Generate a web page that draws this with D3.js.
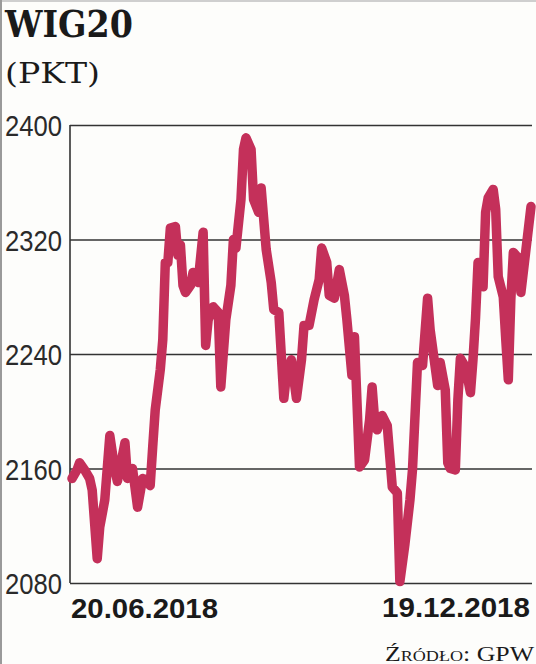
<!DOCTYPE html>
<html>
<head>
<meta charset="utf-8">
<script src="https://cdn.jsdelivr.net/npm/d3@7"></script>
<style>
  html, body { margin: 0; padding: 0; background: #fdfdfb; }
  svg { display: block; }
</style>
</head>
<body>
<svg id="chart" width="536" height="664"></svg>
<script>
// days after 20.06.2018
const days = [0, 2, 3, 5, 7, 8, 10, 11, 13, 15, 17, 18, 20, 21, 22, 24, 26, 28, 30, 31,
  32, 33, 35, 36, 37, 38, 39, 41, 42, 43, 44, 45, 47, 48, 50, 52, 53, 54, 56, 58,
  59, 61, 63, 64, 65, 67, 68, 69, 71, 72, 74, 75, 77, 79, 80, 82, 84, 85, 87, 88,
  89, 91, 92, 94, 96, 98, 99, 101, 102, 104, 106, 108, 109, 111, 112, 114, 116, 118, 119, 120,
  121, 123, 125, 127, 129, 130, 132, 134, 135, 137, 139, 141, 142, 144, 145, 146, 148, 149, 150, 152,
  153, 154, 156, 158, 159, 160, 161, 163, 164, 165, 167, 168, 169, 171, 172, 173, 174, 175, 177, 178,
  180, 182];

// WIG20 closing level (pkt)
const values = [2153, 2159, 2164, 2159, 2153, 2145, 2097, 2119, 2138, 2183, 2159, 2151, 2169, 2178, 2153, 2160, 2133, 2153, 2152, 2148,
  2175, 2201, 2229, 2250, 2304, 2304, 2328, 2329, 2309, 2316, 2288, 2283, 2288, 2297, 2290, 2325, 2246, 2264, 2273, 2269,
  2217, 2264, 2288, 2320, 2314, 2348, 2383, 2391, 2383, 2348, 2339, 2356, 2313, 2290, 2271, 2269, 2209, 2225, 2236, 2222,
  2209, 2236, 2260, 2260, 2278, 2292, 2314, 2304, 2281, 2279, 2299, 2281, 2264, 2225, 2252, 2161, 2166, 2194, 2217, 2194,
  2187, 2197, 2190, 2147, 2143, 2081, 2107, 2138, 2159, 2234, 2232, 2279, 2257, 2231, 2218, 2234, 2215, 2164, 2160, 2159,
  2208, 2237, 2231, 2213, 2236, 2265, 2304, 2287, 2339, 2349, 2355, 2341, 2294, 2280, 2250, 2222, 2278, 2311, 2307, 2283,
  2313, 2343];

const yTicks = [2080, 2160, 2240, 2320, 2400];
const dateLabels = ["20.06.2018", "19.12.2018"];
const title = "WIG20";
const unit = "(PKT)";
const source = "Źródło: GPW";

const start = new Date(2018, 5, 20);
const end = new Date(2018, 11, 19);
const data = days.map((d, i) => ({ date: d3.timeDay.offset(start, d), value: values[i] }));

const svg = d3.select("#chart");
const mLeft = 70, mRight = 532, mTop = 125, mBottom = 583;

// scan border bits
svg.append("rect").attr("x", 0).attr("y", 0).attr("width", 536).attr("height", 2).attr("fill", "#cfcfcf");
svg.append("rect").attr("x", 0).attr("y", 0).attr("width", 2).attr("height", 664).attr("fill", "#9a9a9a");

const x = d3.scaleTime().domain([start, end]).range([mLeft + 2, mRight - 1]);
const y = d3.scaleLinear().domain([2080, 2400]).range([mBottom, mTop]);

// title
svg.append("text")
  .attr("x", 5).attr("y", 37)
  .attr("textLength", 128).attr("lengthAdjust", "spacingAndGlyphs")
  .style("font-family", "'DejaVu Serif', serif")
  .style("font-weight", "bold")
  .style("font-size", "37px")
  .attr("fill", "#1a1a1a")
  .text(title);

svg.append("text")
  .attr("x", 5).attr("y", 83)
  .attr("textLength", 95).attr("lengthAdjust", "spacingAndGlyphs")
  .style("font-family", "'DejaVu Serif', serif")
  .style("font-size", "28px")
  .attr("fill", "#1a1a1a")
  .text(unit);

const labelFont = "'Liberation Sans Narrow', 'Liberation Sans', Arial, sans-serif";

// grid + y labels
const yAxis = d3.axisLeft(y)
  .tickValues(yTicks)
  .tickSize(-(mRight - mLeft))
  .tickPadding(8)
  .tickFormat(d3.format("d"));

const gy = svg.append("g")
  .attr("transform", `translate(${mLeft},0)`)
  .call(yAxis);

gy.select(".domain").remove();
gy.selectAll(".tick line").attr("stroke", "#333").attr("stroke-width", 1.6);
gy.selectAll(".tick text")
  .attr("x", -8)
  .attr("dy", "0.36em")
  .attr("textLength", 57).attr("lengthAdjust", "spacingAndGlyphs")
  .style("font-family", labelFont)
  .style("font-size", "30px")
  .style("font-weight", 300)
  .attr("fill", "#2a2a2a");

// vertical axis line
svg.append("line")
  .attr("x1", mLeft).attr("x2", mLeft)
  .attr("y1", mTop).attr("y2", mBottom)
  .attr("stroke", "#333").attr("stroke-width", 1.6);

// series
const line = d3.line()
  .x(d => x(d.date))
  .y(d => y(d.value));

svg.append("path")
  .datum(data)
  .attr("d", line)
  .attr("fill", "none")
  .attr("stroke", "#c4305a")
  .attr("stroke-width", 9.5)
  .attr("stroke-linejoin", "round")
  .attr("stroke-linecap", "round");

// x labels
svg.append("text")
  .attr("x", 71).attr("y", 618)
  .attr("textLength", 147).attr("lengthAdjust", "spacingAndGlyphs")
  .style("font-family", labelFont)
  .style("font-size", "28px")
  .style("font-weight", "bold")
  .attr("fill", "#1a1a1a")
  .text(dateLabels[0]);

svg.append("text")
  .attr("x", 382).attr("y", 617)
  .attr("textLength", 148).attr("lengthAdjust", "spacingAndGlyphs")
  .style("font-family", labelFont)
  .style("font-size", "28px")
  .style("font-weight", "bold")
  .attr("fill", "#1a1a1a")
  .text(dateLabels[1]);

// source
svg.append("text")
  .attr("x", 385).attr("y", 661)
  .attr("textLength", 149).attr("lengthAdjust", "spacingAndGlyphs")
  .style("font-family", "'Liberation Serif', serif")
  .style("font-variant", "small-caps")
  .style("font-size", "20px")
  .attr("fill", "#1a1a1a")
  .text(source);
</script>
</body>
</html>
